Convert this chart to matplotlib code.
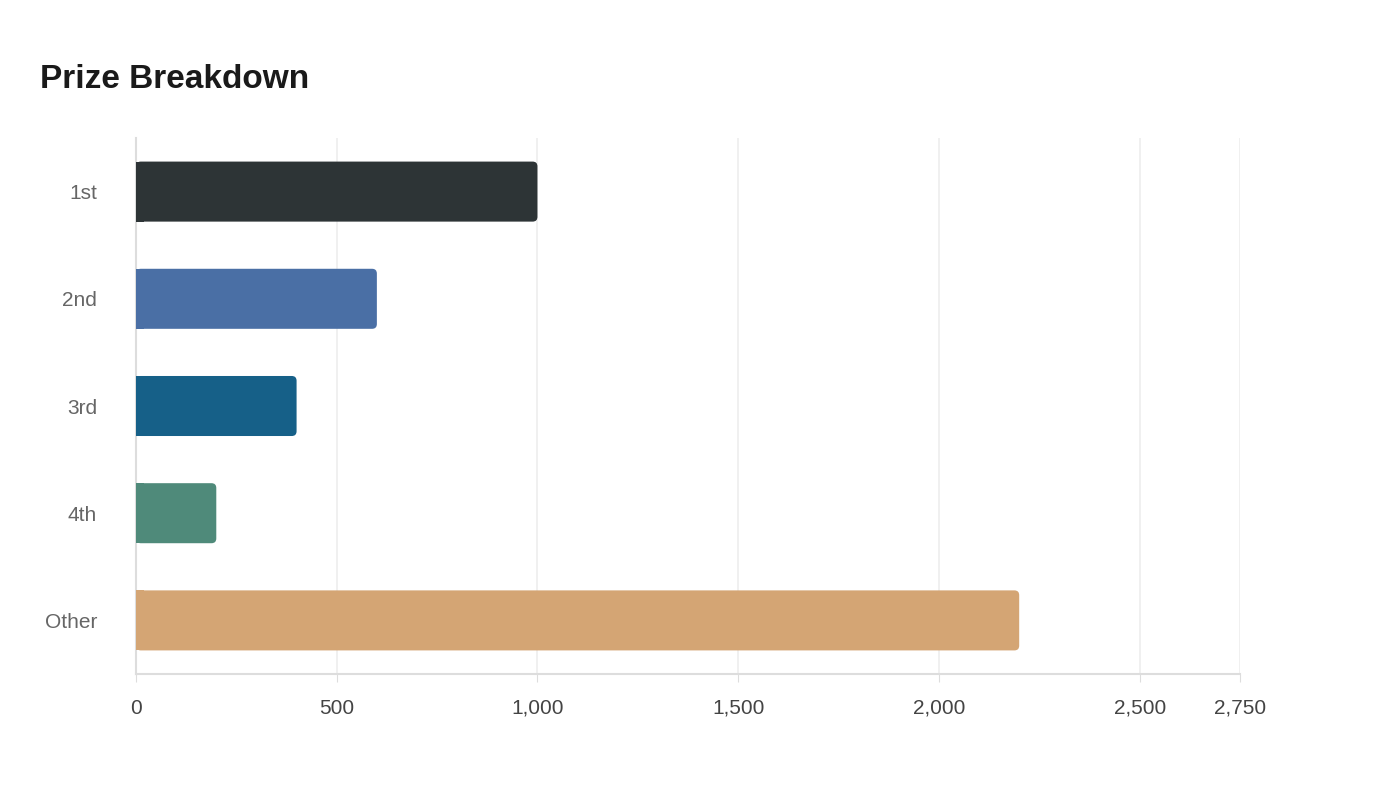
import matplotlib.pyplot as plt
from matplotlib.patches import FancyBboxPatch, Rectangle

plt.rcParams['font.family'] = ['Liberation Sans', 'DejaVu Sans']

categories = ["1st", "2nd", "3rd", "4th", "Other"]
values = [1000, 600, 400, 200, 2200]
colors = ["#2d3436", "#4a6fa5", "#166088", "#4f8a7a", "#d4a574"]
ticks = [0, 500, 1000, 1500, 2000, 2500, 2750]

fig = plt.figure(figsize=(14, 8), dpi=100)
ax = fig.add_axes([136/1400, 1 - 674/800, 1104/1400, 536/800])

xmax = 2750
ax.set_xlim(0, xmax)
ax.set_ylim(len(categories) - 0.5, -0.5)

h = 0.56
# y units per x unit for equal-looking corner radius
aspect = (536 / 5) ** -1 / (1104 / xmax) ** -1
for i, (v, c) in enumerate(zip(values, colors)):
    p = FancyBboxPatch((0, i - h / 2), v, h,
                       boxstyle="round,pad=0,rounding_size=12",
                       mutation_aspect=aspect, fc=c, ec="none", zorder=3)
    ax.add_patch(p)
    ax.add_patch(Rectangle((0, i - h / 2), min(20, v), h, fc=c, ec="none", zorder=3))
    t = ax.text(v, i, f"{v:,}", color="white", fontsize=13, fontweight="bold",
                ha="left", va="center", zorder=4)
    t.set_clip_path(p)

ax.set_yticks(range(len(categories)))
ax.set_yticklabels(categories)
ax.set_xticks(ticks)
ax.set_xticklabels([f"{t:,}" for t in ticks])
ax.tick_params(axis="y", length=0, pad=28, labelsize=15, labelcolor="#666666")
ax.tick_params(axis="x", length=6, color="#dddddd", pad=12, labelsize=15, labelcolor="#444444")
ax.grid(axis="x", color="#eeeeee", linewidth=1.2, zorder=0)
ax.set_axisbelow(True)
for s in ["top", "right"]:
    ax.spines[s].set_visible(False)
for s in ["left", "bottom"]:
    ax.spines[s].set_color("#dddddd")
    ax.spines[s].set_linewidth(1.5)

fig.text(40/1400, 1 - 80/800, "Prize Breakdown", fontsize=24, fontweight="bold",
         color="#1a1a1a", va="center", ha="left")

fig.savefig("out.png", dpi=100, facecolor="white")
